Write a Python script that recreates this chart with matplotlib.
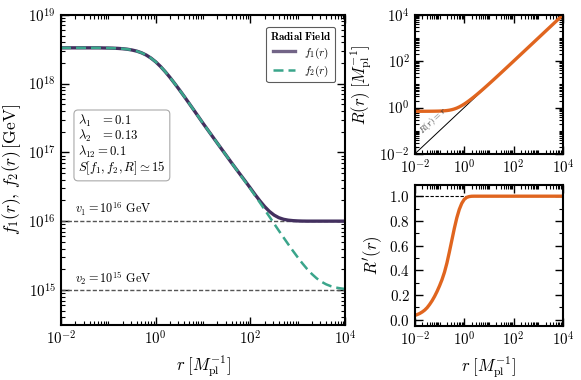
import numpy as np
import matplotlib
matplotlib.use('Agg')
import matplotlib.pyplot as plt
from matplotlib.ticker import LogLocator, FixedLocator, MultipleLocator, NullFormatter

plt.rcParams['font.family'] = 'serif'
plt.rcParams['font.serif'] = ['cmr10']
plt.rcParams['mathtext.fontset'] = 'cm'
plt.rcParams['axes.formatter.use_mathtext'] = True
plt.rcParams['axes.linewidth'] = 1.5

# sample positions, log10(r) from -2 to 4 in steps of 0.1
log_r = np.round(np.arange(-2.0, 4.0001, 0.1), 1)

# log10 of the field profiles [GeV]
log_f1 = [18.52, 18.52, 18.52, 18.52, 18.52, 18.52, 18.52, 18.52, 18.52, 18.518,
          18.517, 18.515, 18.512, 18.507, 18.50, 18.488, 18.472, 18.448, 18.415, 18.371,
          18.316, 18.25, 18.174, 18.091, 18.002, 17.91, 17.815, 17.718, 17.62, 17.521,
          17.422, 17.326, 17.23, 17.135, 17.04, 16.945, 16.85, 16.757, 16.665, 16.573,
          16.48, 16.385, 16.295, 16.212, 16.142, 16.088, 16.05, 16.027, 16.014, 16.007,
          16.003, 16.001, 16.0, 16.0, 16.0, 16.0, 16.0, 16.0, 16.0, 16.0, 16.0]
log_f2 = [18.52, 18.52, 18.52, 18.52, 18.52, 18.52, 18.52, 18.52, 18.52, 18.518,
          18.517, 18.515, 18.512, 18.507, 18.50, 18.488, 18.472, 18.448, 18.415, 18.371,
          18.316, 18.25, 18.174, 18.091, 18.002, 17.91, 17.815, 17.718, 17.62, 17.521,
          17.422, 17.326, 17.23, 17.135, 17.04, 16.945, 16.85, 16.755, 16.66, 16.565,
          16.47, 16.37, 16.27, 16.168, 16.066, 15.964, 15.862, 15.762, 15.663, 15.566,
          15.473, 15.384, 15.302, 15.23, 15.168, 15.119, 15.081, 15.054, 15.035, 15.023,
          15.014]

# log10 R(r) [M_pl^-1]
log_R = [-0.161, -0.161, -0.161, -0.161, -0.1604, -0.1601, -0.1596, -0.1586, -0.1574, -0.1552,
         -0.1524, -0.1475, -0.1403, -0.1296, -0.1141, -0.092, -0.0615, -0.0223, 0.0265, 0.0842,
         0.1495, 0.2214, 0.2986, 0.3799, 0.4646, 0.552, 0.6419, 0.7336, 0.8269, 0.9215,
         1.0172, 1.1137, 1.2109, 1.3087, 1.4069, 1.5055, 1.6044, 1.7035, 1.8028, 1.9022,
         2.0017, 2.1014, 2.2011, 2.3009, 2.4007, 2.5006, 2.6004, 2.7003, 2.8002, 2.9002,
         3.0001, 3.1001, 3.2001, 3.3, 3.4, 3.5, 3.6, 3.7, 3.8, 3.9, 4.0]
# R'(r)
dR = [0.036, 0.043, 0.052, 0.064, 0.079, 0.099, 0.125, 0.155, 0.19, 0.23,
      0.275, 0.325, 0.385, 0.46, 0.55, 0.645, 0.74, 0.825, 0.893, 0.942,
      0.974, 0.99, 0.997, 0.9995, 1.0, 1.0, 1.0, 1.0, 1.0, 1.0,
      1.0, 1.0, 1.0, 1.0, 1.0, 1.0, 1.0, 1.0, 1.0, 1.0,
      1.0, 1.0, 1.0, 1.0, 1.0, 1.0, 1.0, 1.0, 1.0, 1.0,
      1.0, 1.0, 1.0, 1.0, 1.0, 1.0, 1.0, 1.0, 1.0, 1.0, 1.0]

v1, v2 = 1e16, 1e15
params_text = ('$\\lambda_1\\ \\ \\,=0.1$\n$\\lambda_2\\ \\ \\,=0.13$\n'
               '$\\lambda_{12}=0.1$\n$S[f_1,f_2,R]\\simeq 15$')

r = 10.0 ** log_r
f1 = 10.0 ** np.array(log_f1)
f2 = 10.0 ** np.array(log_f2)
R = 10.0 ** np.array(log_R)

c_f1 = '#43305f'
c_f2 = '#3aa58b'
c_R = '#e0651f'
TICK_FS = 10.8
LABEL_FS = 12


def style_ticks(ax):
    ax.tick_params(which='both', direction='in', top=True, right=True, labelsize=TICK_FS)
    ax.tick_params(which='major', length=6, width=1.0)
    ax.tick_params(which='minor', length=3, width=0.8)


def log_x(ax):
    ax.set_xscale('log')
    ax.set_xlim(1e-2, 1e4)
    ax.xaxis.set_major_locator(FixedLocator([1e-2, 1e0, 1e2, 1e4]))
    ax.xaxis.set_minor_locator(LogLocator(base=10, subs=np.arange(1, 10), numticks=20))
    ax.xaxis.set_minor_formatter(NullFormatter())


fig = plt.figure(figsize=(5.81, 3.80), dpi=100)
ax = fig.add_axes([0.105, 0.145, 0.489, 0.816])
ax_R = fig.add_axes([0.714, 0.595, 0.255, 0.366])
ax_dR = fig.add_axes([0.714, 0.142, 0.255, 0.371])

# left: field profiles
ax.axhline(v1, color='#555555', ls='--', lw=1.0, dashes=(3, 1.5))
ax.axhline(v2, color='#555555', ls='--', lw=1.0, dashes=(3, 1.5))
ax.plot(r, f1, color=c_f1, lw=2.4, label='$f_1(r)$')
ax.plot(r, f2, color=c_f2, lw=1.8, ls='--', dashes=(4, 2), label='$f_2(r)$')
ax.text(0.02, v1 * 1.12, '$v_1 = 10^{16}$ GeV', fontsize=8.8, va='bottom')
ax.text(0.02, v2 * 1.12, '$v_2 = 10^{15}$ GeV', fontsize=8.8, va='bottom')
ax.text(0.06, 0.685, params_text, transform=ax.transAxes, fontsize=9.2, va='top',
        linespacing=0.95,
        bbox=dict(boxstyle='round,pad=0.32', fc='white', ec='#aaaaaa', lw=0.8))
log_x(ax)
ax.set_yscale('log')
ax.set_ylim(3.1e14, 1e19)
ax.yaxis.set_major_locator(FixedLocator([1e15, 1e16, 1e17, 1e18, 1e19]))
ax.yaxis.set_minor_locator(LogLocator(base=10, subs=np.arange(2, 10), numticks=20))
ax.yaxis.set_minor_formatter(NullFormatter())
style_ticks(ax)
ax.set_xlabel('$r\\;[M_{\\rm pl}^{-1}]$', fontsize=LABEL_FS)
ax.set_ylabel('$f_1(r),\\,f_2(r)\\,[\\mathrm{GeV}]$', fontsize=LABEL_FS + 0.5)
leg = ax.legend(loc='upper right', fontsize=8, title='$\\mathbf{Radial\\ Field}$',
                title_fontsize=8, frameon=True, fancybox=True, edgecolor='#333333',
                handlelength=2.0, borderpad=0.35, labelspacing=0.25,
                bbox_to_anchor=(0.985, 0.98))
leg.get_frame().set_linewidth(0.8)
leg.legend_handles[0].set_alpha(0.75)

# right top: R(r)
ax_R.plot(r, r, color='black', lw=0.7)
ax_R.plot(r, R, color=c_R, lw=2.4)
ax_R.text(0.025, 0.052, '$R(r) = r$', fontsize=6.5, rotation=43, color='#333333',
          rotation_mode='anchor', ha='left', va='bottom')
log_x(ax_R)
ax_R.set_yscale('log')
ax_R.set_ylim(1e-2, 1e4)
ax_R.yaxis.set_major_locator(FixedLocator([1e-2, 1e0, 1e2, 1e4]))
ax_R.yaxis.set_minor_locator(LogLocator(base=10, subs=np.arange(1, 10), numticks=20))
ax_R.yaxis.set_minor_formatter(NullFormatter())
style_ticks(ax_R)
ax_R.set_ylabel('$R(r)\\;[M_{\\rm pl}^{-1}]$', fontsize=LABEL_FS)

# right bottom: R'(r)
ax_dR.axhline(1.0, color='black', ls='--', lw=0.8, dashes=(3, 1.5))
ax_dR.plot(r, dR, color=c_R, lw=2.4)
log_x(ax_dR)
ax_dR.set_ylim(-0.05, 1.09)
ax_dR.yaxis.set_major_locator(MultipleLocator(0.2))
ax_dR.yaxis.set_minor_locator(MultipleLocator(0.1))
style_ticks(ax_dR)
ax_dR.set_xlabel('$r\\;[M_{\\rm pl}^{-1}]$', fontsize=LABEL_FS)
ax_dR.set_ylabel("$R'(r)$", fontsize=LABEL_FS)

fig.savefig('out.png', dpi=100)
